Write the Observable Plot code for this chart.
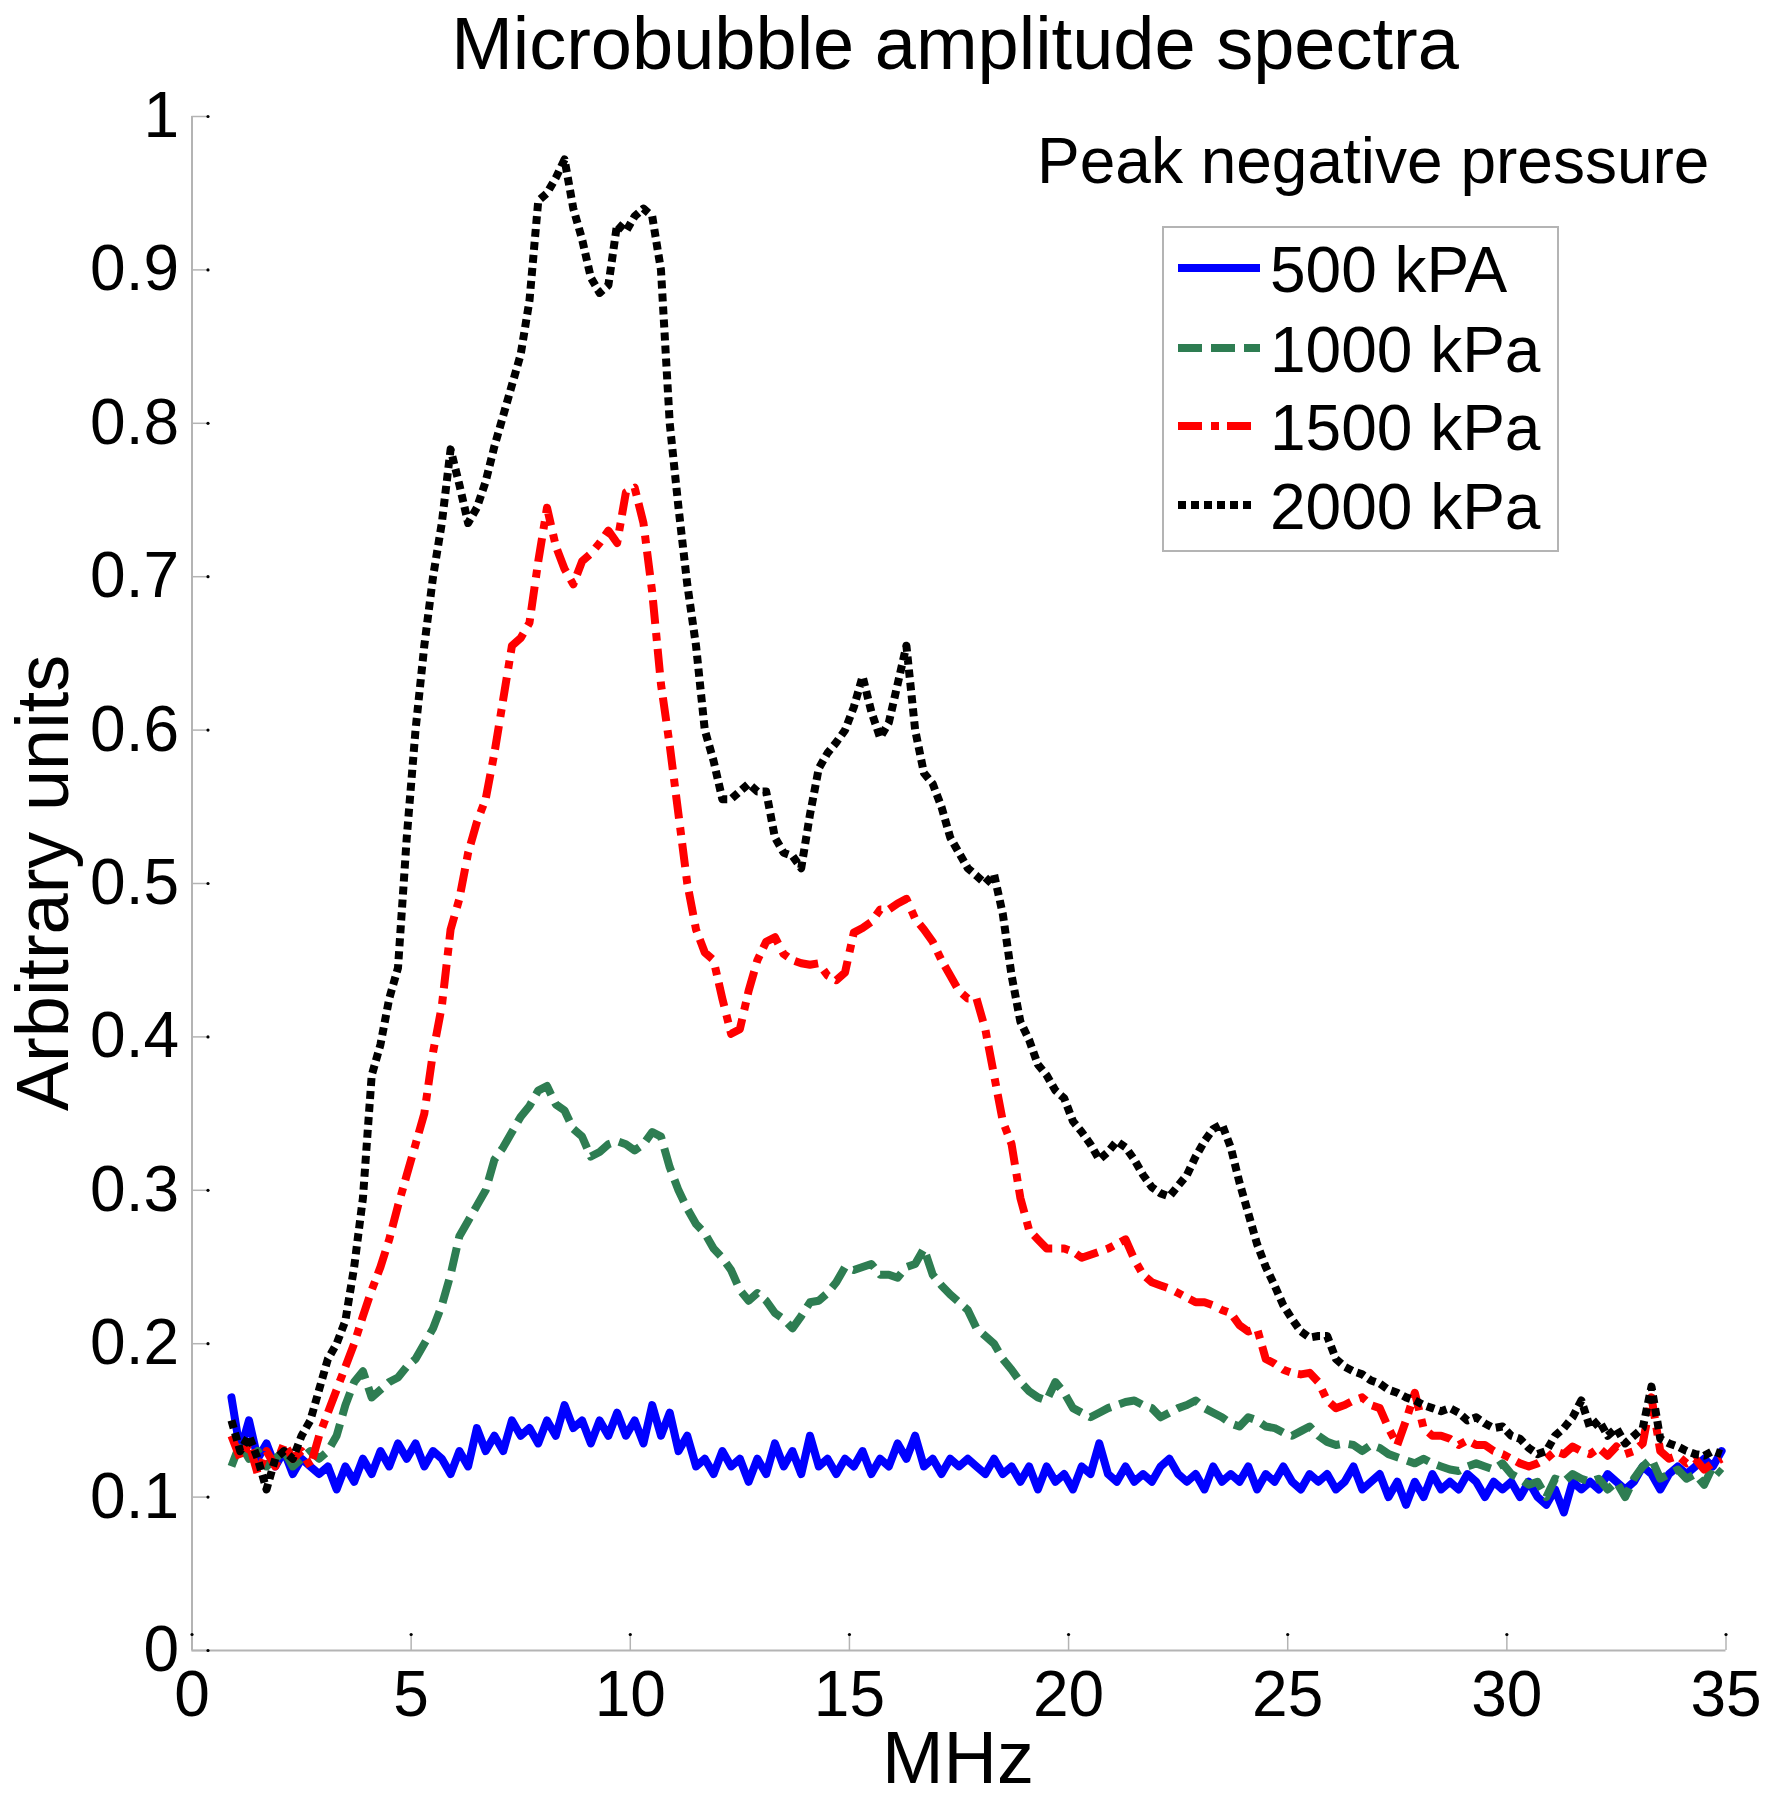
<!DOCTYPE html>
<html>
<head>
<meta charset="utf-8">
<script src="https://cdn.jsdelivr.net/npm/d3@7"></script>
<script src="https://cdn.jsdelivr.net/npm/@observablehq/plot@0.6"></script>
<style>
  html, body { margin: 0; padding: 0; background: #fff; }
  #chart svg { display: block; }
</style>
</head>
<body>
<div id="chart"></div>
<script>
// ---- Data ----
const titleText = "Microbubble amplitude spectra";
const xLabel = "MHz";
const yLabel = "Arbitrary units";
const legendTitle = "Peak negative pressure";
const seriesNames = ["500 kPA", "1000 kPa", "1500 kPa", "2000 kPa"];
const seriesColors = ["#0000ff", "#2e7d52", "#ff0000", "#000000"];
const seriesDash = [null, "24,9", "24,9,8,8", "8,5"];
const xTicks = [0, 5, 10, 15, 20, 25, 30, 35];
const yTicks = [0, 0.1, 0.2, 0.3, 0.4, 0.5, 0.6, 0.7, 0.8, 0.9, 1];

const freq = [
  0.9,1.1,1.3,1.5,1.7, 1.9,2.1,2.3,2.5,2.7, 2.9,3.1,3.3,3.5,3.7, 3.9,4.1,4.3,4.5,4.7,
  4.9,5.1,5.3,5.5,5.7, 5.9,6.1,6.3,6.5,6.7, 6.9,7.1,7.3,7.5,7.7, 7.9,8.1,8.3,8.5,8.7,
  8.9,9.1,9.3,9.5,9.7, 9.9,10.1,10.3,10.5,10.7, 10.9,11.1,11.3,11.5,11.7, 11.9,12.1,12.3,12.5,12.7,
  12.9,13.1,13.3,13.5,13.7, 13.9,14.1,14.3,14.5,14.7, 14.9,15.1,15.3,15.5,15.7, 15.9,16.1,16.3,16.5,16.7,
  16.9,17.1,17.3,17.5,17.7, 17.9,18.1,18.3,18.5,18.7, 18.9,19.1,19.3,19.5,19.7, 19.9,20.1,20.3,20.5,20.7,
  20.9,21.1,21.3,21.5,21.7, 21.9,22.1,22.3,22.5,22.7, 22.9,23.1,23.3,23.5,23.7, 23.9,24.1,24.3,24.5,24.7,
  24.9,25.1,25.3,25.5,25.7, 25.9,26.1,26.3,26.5,26.7, 26.9,27.1,27.3,27.5,27.7, 27.9,28.1,28.3,28.5,28.7,
  28.9,29.1,29.3,29.5,29.7, 29.9,30.1,30.3,30.5,30.7, 30.9,31.1,31.3,31.5,31.7, 31.9,32.1,32.3,32.5,32.7,
  32.9,33.1,33.3,33.5,33.7, 33.9,34.1,34.3,34.5,34.7, 34.9
];

const kPa500 = [
  0.165,0.13,0.15,0.125,0.135, 0.12,0.13,0.115,0.125,0.12, 0.115,0.12,0.105,0.12,0.11, 0.125,0.115,0.13,0.12,0.135,
  0.125,0.135,0.12,0.13,0.125, 0.115,0.13,0.12,0.145,0.13, 0.14,0.13,0.15,0.14,0.145, 0.135,0.15,0.14,0.16,0.145,
  0.15,0.135,0.15,0.14,0.155, 0.14,0.15,0.135,0.16,0.14, 0.155,0.13,0.14,0.12,0.125, 0.115,0.13,0.12,0.125,0.11,
  0.125,0.115,0.135,0.12,0.13, 0.115,0.14,0.12,0.125,0.115, 0.125,0.12,0.13,0.115,0.125, 0.12,0.135,0.125,0.14,0.12,
  0.125,0.115,0.125,0.12,0.125, 0.12,0.115,0.125,0.115,0.12, 0.11,0.12,0.105,0.12,0.11, 0.115,0.105,0.12,0.115,0.135,
  0.115,0.11,0.12,0.11,0.115, 0.11,0.12,0.125,0.115,0.11, 0.115,0.105,0.12,0.11,0.115, 0.11,0.12,0.105,0.115,0.11,
  0.12,0.11,0.105,0.115,0.11, 0.115,0.105,0.11,0.12,0.105, 0.11,0.115,0.1,0.11,0.095, 0.11,0.1,0.115,0.105,0.11,
  0.105,0.115,0.11,0.1,0.11, 0.105,0.11,0.1,0.11,0.1, 0.095,0.105,0.09,0.11,0.105, 0.11,0.105,0.115,0.11,0.105,
  0.11,0.12,0.115,0.105,0.115, 0.12,0.115,0.12,0.125,0.12, 0.13
];

const kPa1000 = [
  0.12,0.135,0.125,0.13,0.12, 0.125,0.13,0.12,0.125,0.13, 0.125,0.13,0.14,0.16,0.175, 0.182,0.165,0.17,0.175,0.178,
  0.185,0.19,0.2,0.21,0.225, 0.245,0.27,0.28,0.29,0.3, 0.32,0.328,0.338,0.348,0.355, 0.365,0.368,0.356,0.352,0.34,
  0.335,0.322,0.325,0.33,0.332, 0.33,0.326,0.33,0.338,0.335, 0.315,0.3,0.288,0.278,0.272, 0.262,0.256,0.248,0.235,0.228,
  0.233,0.228,0.22,0.216,0.21, 0.218,0.227,0.228,0.233,0.24, 0.25,0.248,0.25,0.252,0.245, 0.245,0.243,0.25,0.252,0.262,
  0.245,0.238,0.232,0.227,0.222, 0.21,0.205,0.2,0.19,0.183, 0.175,0.169,0.165,0.163,0.175, 0.168,0.158,0.155,0.152,0.155,
  0.158,0.16,0.162,0.163,0.16, 0.158,0.152,0.155,0.158,0.16, 0.163,0.158,0.155,0.152,0.148, 0.146,0.152,0.15,0.146,0.145,
  0.142,0.14,0.143,0.146,0.14, 0.136,0.134,0.135,0.134,0.13, 0.134,0.132,0.128,0.126,0.124, 0.122,0.125,0.122,0.12,0.118,
  0.117,0.12,0.122,0.12,0.118, 0.122,0.115,0.112,0.108,0.11, 0.1,0.112,0.11,0.115,0.112, 0.11,0.112,0.105,0.11,0.1,
  0.112,0.12,0.125,0.112,0.115, 0.118,0.112,0.115,0.108,0.12, 0.115
];

const kPa1500 = [
  0.14,0.125,0.135,0.115,0.13, 0.12,0.135,0.125,0.13,0.12, 0.14,0.155,0.17,0.185,0.2, 0.218,0.235,0.25,0.268,0.29,
  0.31,0.33,0.35,0.39,0.42, 0.47,0.49,0.52,0.54,0.555, 0.585,0.62,0.655,0.66,0.67, 0.71,0.745,0.72,0.705,0.695,
  0.71,0.715,0.722,0.73,0.722, 0.755,0.758,0.735,0.69,0.63, 0.59,0.545,0.5,0.47,0.455, 0.45,0.425,0.402,0.405,0.43,
  0.45,0.462,0.465,0.454,0.45, 0.448,0.447,0.448,0.44,0.437, 0.442,0.468,0.471,0.475,0.483, 0.483,0.487,0.49,0.477,0.47,
  0.462,0.45,0.44,0.43,0.425, 0.425,0.405,0.375,0.345,0.33, 0.295,0.274,0.268,0.262,0.262, 0.262,0.26,0.256,0.258,0.26,
  0.262,0.265,0.268,0.255,0.245, 0.24,0.238,0.236,0.233,0.23, 0.227,0.227,0.225,0.222,0.22, 0.212,0.208,0.21,0.19,0.187,
  0.183,0.181,0.18,0.181,0.175, 0.163,0.158,0.16,0.163,0.165, 0.16,0.158,0.145,0.134,0.15, 0.168,0.145,0.14,0.14,0.138,
  0.134,0.137,0.134,0.134,0.13, 0.128,0.125,0.122,0.12,0.122, 0.125,0.13,0.128,0.133,0.13, 0.128,0.132,0.127,0.133,0.128,
  0.13,0.135,0.165,0.13,0.125, 0.127,0.122,0.125,0.118,0.122, 0.125
];

const kPa2000 = [
  0.15,0.13,0.14,0.125,0.105, 0.125,0.13,0.125,0.14,0.15, 0.17,0.19,0.2,0.215,0.25, 0.295,0.375,0.395,0.425,0.445,
  0.53,0.6,0.655,0.7,0.735, 0.783,0.76,0.735,0.745,0.762, 0.785,0.805,0.825,0.845,0.88, 0.945,0.95,0.96,0.972,0.94,
  0.92,0.895,0.885,0.89,0.93, 0.925,0.935,0.94,0.935,0.9, 0.8,0.745,0.695,0.655,0.6, 0.58,0.555,0.555,0.56,0.565,
  0.56,0.56,0.53,0.52,0.518, 0.51,0.545,0.575,0.585,0.592, 0.6,0.615,0.635,0.612,0.595, 0.605,0.63,0.655,0.6,0.572,
  0.565,0.55,0.53,0.52,0.51, 0.505,0.5,0.506,0.48,0.44, 0.41,0.398,0.382,0.375,0.365, 0.36,0.345,0.338,0.33,0.32,
  0.325,0.332,0.328,0.32,0.31, 0.302,0.298,0.296,0.303,0.31, 0.322,0.332,0.34,0.343,0.328, 0.305,0.285,0.265,0.25,0.238,
  0.225,0.216,0.208,0.204,0.205, 0.205,0.19,0.185,0.182,0.18, 0.176,0.174,0.17,0.168,0.165, 0.163,0.16,0.158,0.156,0.158,
  0.155,0.15,0.152,0.148,0.145, 0.146,0.14,0.138,0.132,0.128, 0.13,0.14,0.145,0.152,0.163, 0.145,0.15,0.14,0.145,0.135,
  0.14,0.145,0.172,0.138,0.135, 0.133,0.13,0.128,0.127,0.13, 0.128
];

const seriesValues = [kPa500, kPa1000, kPa1500, kPa2000];

// ---- Build chart ----
const FONT = "'Liberation Sans', Arial, Helvetica, sans-serif";
const W = 1768, H = 1800;
const axisGray = "#b4b4b4";

const lineMarks = seriesValues.map((vals, i) => {
  const rows = freq.map((f, j) => ({f, v: vals[j]}));
  return Plot.line(rows, {
    x: "f", y: "v",
    stroke: seriesColors[i],
    strokeWidth: 8,
    strokeDasharray: seriesDash[i] || undefined,
    strokeLinejoin: "round",
    strokeLinecap: seriesDash[i] ? "butt" : "round"
  });
});

const chart = Plot.plot({
  width: W,
  height: H,
  marginLeft: 191.5,
  marginRight: 42.5,
  marginTop: 116,
  marginBottom: 150,
  style: {fontFamily: FONT, background: "#fff", color: "#000", overflow: "visible"},
  x: {domain: [0, 35]},
  y: {domain: [0, 1]},
  marks: [
    Plot.ruleX([0], {stroke: axisGray, strokeWidth: 2}),
    Plot.ruleY([0], {stroke: axisGray, strokeWidth: 2}),
    Plot.axisX({ticks: xTicks, tickSize: -16, tickPadding: 36, fontSize: 64, stroke: axisGray, fill: "#000", strokeWidth: 1.5, label: null, tickFormat: d => String(d)}),
    Plot.axisY({ticks: yTicks, tickSize: -16, tickPadding: 29, fontSize: 64, stroke: axisGray, fill: "#000", strokeWidth: 1.5, label: null, tickFormat: d => String(+d.toFixed(1))}),
    // small dark tips at the inner end of each tick, as in the reference
    Plot.dot(xTicks, {x: d => d, y: 0, dy: -16, r: 1.6, fill: "#000", stroke: null}),
    Plot.dot(yTicks, {x: 0, y: d => d, dx: 16, r: 1.6, fill: "#000", stroke: null}),
    ...lineMarks
  ]
});

document.getElementById("chart").appendChild(chart);

// ---- Titles and legend ----
const svg = d3.select(chart);
svg.append("text")
  .attr("x", 955).attr("y", 69)
  .attr("text-anchor", "middle")
  .attr("font-size", 74).attr("font-family", FONT).attr("fill", "#000")
  .text(titleText);

svg.append("text")
  .attr("x", 958).attr("y", 1783)
  .attr("text-anchor", "middle")
  .attr("font-size", 74).attr("font-family", FONT).attr("fill", "#000")
  .text(xLabel);

svg.append("text")
  .attr("transform", "translate(68,883) rotate(-90)")
  .attr("text-anchor", "middle")
  .attr("font-size", 74).attr("font-family", FONT).attr("fill", "#000")
  .text(yLabel);

svg.append("text")
  .attr("x", 1037).attr("y", 183)
  .attr("text-anchor", "start")
  .attr("font-size", 64).attr("font-family", FONT).attr("fill", "#000")
  .text(legendTitle);

const lg = svg.append("g");
lg.append("rect")
  .attr("x", 1163).attr("y", 227).attr("width", 395).attr("height", 324)
  .attr("fill", "#fff").attr("stroke", axisGray).attr("stroke-width", 2);

const rowY = [268, 348, 426, 505];
const sampleEnd = [1260, 1260, 1252, 1252];
seriesNames.forEach((name, i) => {
  lg.append("line")
    .attr("x1", 1178).attr("x2", sampleEnd[i])
    .attr("y1", rowY[i]).attr("y2", rowY[i])
    .attr("stroke", seriesColors[i]).attr("stroke-width", 8)
    .attr("stroke-dasharray", seriesDash[i])
    .attr("stroke-linecap", "butt");
  lg.append("text")
    .attr("x", 1270).attr("y", rowY[i] + 24)
    .attr("text-anchor", "start")
    .attr("font-size", 64).attr("font-family", FONT).attr("fill", "#000")
    .text(name);
});
</script>
</body>
</html>
